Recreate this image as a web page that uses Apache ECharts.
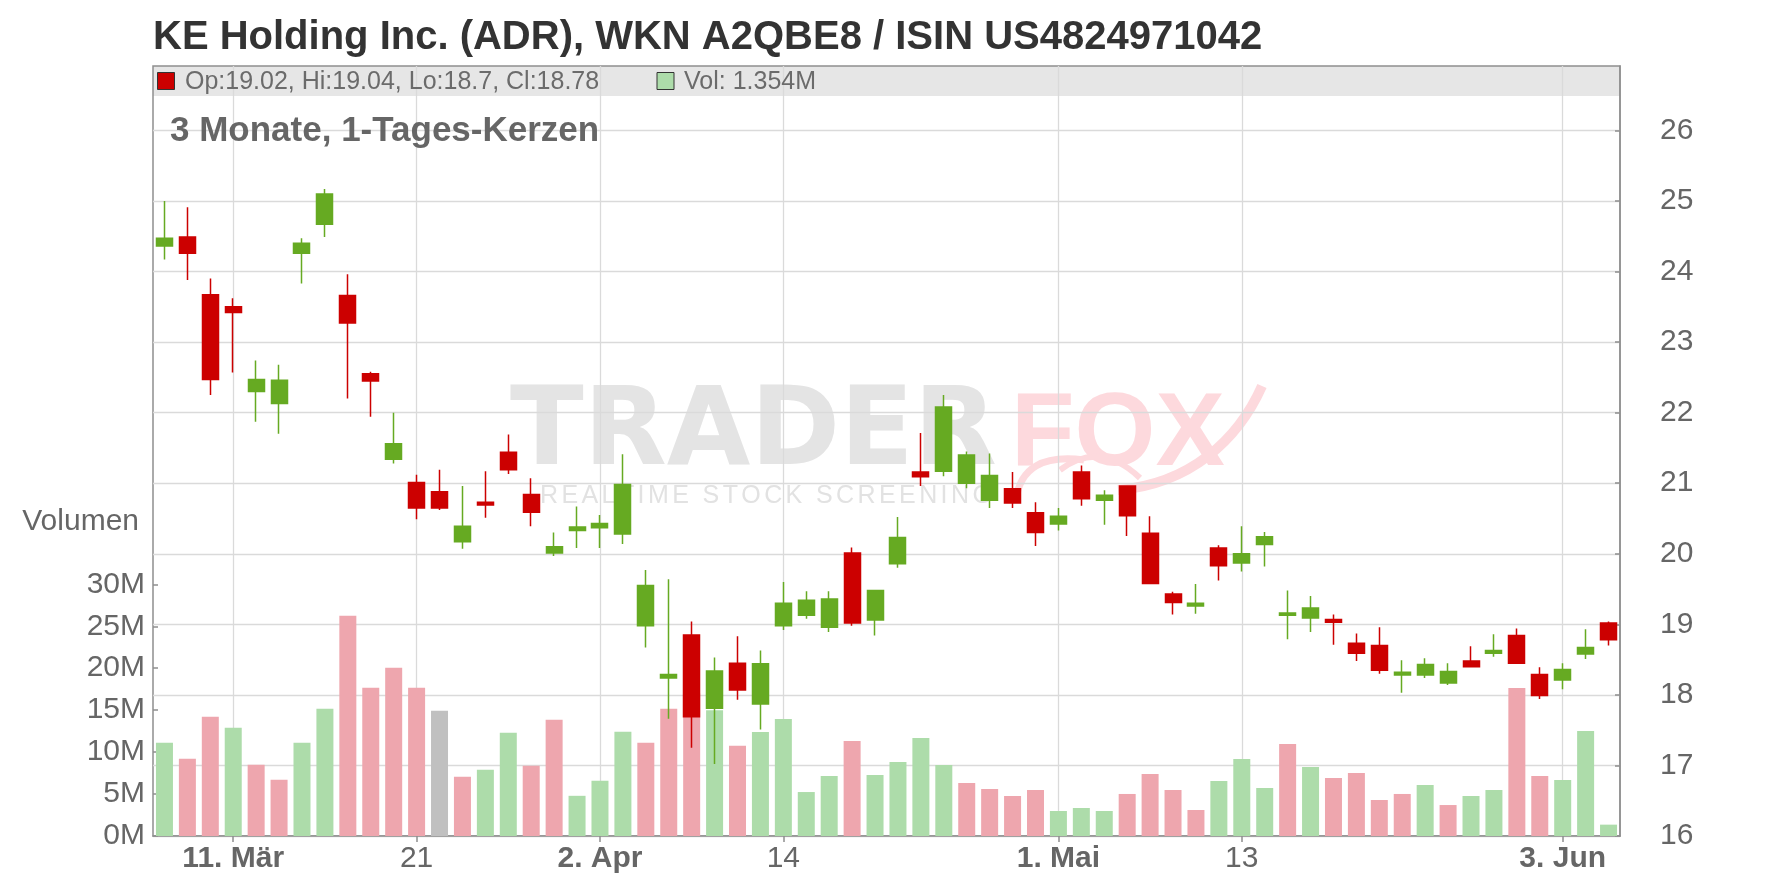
<!DOCTYPE html>
<html>
<head>
<meta charset="utf-8">
<script src="https://cdn.jsdelivr.net/npm/echarts@6/dist/echarts.min.js"></script>
<style>html,body{margin:0;padding:0;background:#fff}#c{width:1776px;height:888px}</style>
</head>
<body>
<div id="c"></div>
<script>
// ---------- data ----------
const dates = [
 '2024-03-06','2024-03-07','2024-03-08','2024-03-11','2024-03-12','2024-03-13','2024-03-14','2024-03-15',
 '2024-03-18','2024-03-19','2024-03-20','2024-03-21','2024-03-22','2024-03-25','2024-03-26','2024-03-27',
 '2024-03-28','2024-04-01','2024-04-02','2024-04-03','2024-04-04','2024-04-05','2024-04-08','2024-04-09',
 '2024-04-10','2024-04-11','2024-04-12','2024-04-15','2024-04-16','2024-04-17','2024-04-18','2024-04-19',
 '2024-04-22','2024-04-23','2024-04-24','2024-04-25','2024-04-26','2024-04-29','2024-04-30','2024-05-01',
 '2024-05-02','2024-05-03','2024-05-06','2024-05-07','2024-05-08','2024-05-09','2024-05-10','2024-05-13',
 '2024-05-14','2024-05-15','2024-05-16','2024-05-17','2024-05-20','2024-05-21','2024-05-22','2024-05-23',
 '2024-05-24','2024-05-28','2024-05-29','2024-05-30','2024-05-31','2024-06-03','2024-06-04','2024-06-05'
];
const opens = [
 24.36,24.49,23.67,23.50,22.30,22.13,24.26,24.67,23.66,22.55,21.34,21.01,20.88,20.17,20.73,21.44,
 20.84,20.01,20.33,20.37,20.28,18.98,18.24,18.85,17.81,18.45,17.87,18.98,19.13,18.96,20.01,19.06,
 19.86,21.16,21.17,21.00,20.76,20.92,20.58,20.42,21.16,20.76,20.96,20.29,19.43,19.26,20.08,19.87,
 20.13,19.13,19.09,19.07,18.73,18.70,18.28,18.28,18.17,18.48,18.59,18.84,18.29,18.21,18.58,19.02
];
const closes = [
 24.47,24.26,22.47,23.42,22.47,22.46,24.40,25.10,23.27,22.45,21.56,20.65,20.65,20.39,20.69,21.19,
 20.59,20.10,20.38,20.43,20.98,19.55,18.29,17.69,18.34,18.07,18.44,19.30,19.34,19.36,19.02,19.48,
 20.23,21.09,22.08,21.40,21.11,20.72,20.30,20.53,20.78,20.83,20.54,19.58,19.31,19.30,19.83,20.00,
 20.24,19.16,19.23,19.03,18.59,18.35,18.32,18.43,18.33,18.40,18.63,18.45,17.99,18.36,18.67,18.78
];
const lows = [
 24.17,23.88,22.25,22.57,21.87,21.70,23.83,24.49,22.20,21.94,21.28,20.49,20.62,20.07,20.51,21.13,
 20.39,19.97,20.08,20.08,20.14,18.67,17.66,17.25,17.02,17.93,17.51,18.92,19.08,18.89,18.98,18.84,
 19.80,20.96,21.10,20.93,20.65,20.65,20.11,20.33,20.68,20.41,20.25,19.58,19.14,19.15,19.62,19.75,
 19.82,18.79,18.89,18.71,18.48,18.30,18.03,18.24,18.14,18.40,18.54,18.44,17.94,18.08,18.51,18.7
];
const highs = [
 25.00,24.91,23.90,23.62,22.74,22.68,24.47,25.17,23.96,22.58,22.00,21.12,21.19,20.96,21.17,21.69,
 21.07,20.30,20.67,20.55,21.41,19.77,19.64,19.04,18.53,18.83,18.63,19.60,19.47,19.47,20.09,19.49,
 20.52,21.71,22.25,21.45,21.42,21.16,20.73,20.65,21.25,20.90,20.97,20.53,19.46,19.57,20.12,20.39,
 20.31,19.48,19.40,19.14,18.87,18.96,18.49,18.52,18.45,18.69,18.86,18.94,18.39,18.45,18.93,19.04
];
// volume in millions of shares
const volumes = [
 11.12,9.22,14.22,12.91,8.50,6.71,11.12,15.18,26.26,17.68,20.06,17.68,14.94,7.07,7.91,12.32,
 8.38,13.87,4.79,6.58,12.42,11.10,15.16,17.0,15.0,10.75,12.40,13.94,5.24,7.15,11.32,7.27,
 8.82,11.68,8.46,6.32,5.60,4.77,5.48,2.98,3.34,2.98,5.01,7.39,5.48,3.10,6.56,9.18,
 5.72,10.97,8.22,6.91,7.51,4.29,5.01,6.08,3.69,4.77,5.48,17.64,7.15,6.67,12.51,1.354
];
const xTickIndex  = [3, 11, 19, 27, 39, 47, 61];
const xTickLabels = ['11. Mär', '21', '2. Apr', '14', '1. Mai', '13', '3. Jun'];
const xTickBold   = [true, false, true, false, true, false, true];
const priceTicks  = [16, 17, 18, 19, 20, 21, 22, 23, 24, 25, 26];
const volumeTicks = [0, 5, 10, 15, 20, 25, 30];

const titleText = 'KE Holding Inc. (ADR), WKN A2QBE8 / ISIN US4824971042';
const subTitleText = '3 Monate, 1-Tages-Kerzen';

// ---------- styling / layout ----------
const UP = '#66aa22', DOWN = '#cc0000';
const VUP = '#addcaa', VDOWN = '#eea6ae', VFLAT = '#c0c0c0';
const FONT = '"Liberation Sans", Arial, sans-serif';
const PL = 153, PR = 1620, PT = 66, PB = 836;       // plot box
const P26 = 130.4;                                   // pixel of the 26 gridline
const pxPerUnit = (PB - P26) / 10;
const priceMax = 16 + (PB - PT) / pxPerUnit;
const volTop = PB - 6 * 41.95;

const n = dates.length;
const last = n - 1;
const ohlc = dates.map((d, i) => [opens[i], closes[i], lows[i], highs[i]]);
const volData = volumes.map((v, i) => {
  let c = VUP;
  if (i > 0) c = closes[i] > closes[i - 1] ? VUP : (closes[i] < closes[i - 1] ? VDOWN : VFLAT);
  return { value: v, itemStyle: { color: c } };
});

// letter-spaced watermark subtitle
const ctx = document.createElement('canvas').getContext('2d');
const wmFont = '25px ' + FONT;
ctx.font = wmFont;
const wmText = 'REALTIME STOCK SCREENING';
const wmChars = [];
let wx = 540;
for (const ch of wmText) {
  wmChars.push({ type: 'text', z: -5, style: { x: wx, y: 496, text: ch, font: wmFont, fill: '#e2e2e2', verticalAlign: 'middle' } });
  wx += ctx.measureText(ch).width + 3.4;
}

const chart = echarts.init(document.getElementById('c'), null, { renderer: 'canvas' });
chart.setOption({
  animation: false,
  backgroundColor: '#fff',
  textStyle: { fontFamily: FONT },
  title: [
    { text: titleText, left: PL, top: 18, padding: 0,
      textStyle: { fontSize: 40, fontWeight: 'bold', color: '#333', fontFamily: FONT } },
    { text: subTitleText, left: 170, top: 114, padding: 0,
      textStyle: { fontSize: 35, fontWeight: 'bold', color: '#666', fontFamily: FONT } }
  ],
  graphic: [
    { type: 'rect', z: -6, shape: { x: PL, y: PT, width: PR - PL, height: 30 }, style: { fill: '#e6e6e6' } },
    { type: 'text', z: -5, style: { x: 510, y: 436, text: 'TRADER', font: 'bold 108px "DejaVu Sans"', fill: '#e4e4e4', verticalAlign: 'middle' } },
    { type: 'text', z: -5, style: { x: 1011, y: 436, text: 'FOX', font: 'bold 104px ' + FONT, fill: '#fdd9dd', verticalAlign: 'middle' } },
    { type: 'bezierCurve', z: -5, shape: { x1: 1016, y1: 500, cpx1: 1022, cpy1: 452, x2: 1084, y2: 460 }, style: { stroke: '#fdd9dd', lineWidth: 7, fill: null } },
    { type: 'bezierCurve', z: -5, shape: { x1: 1060, y1: 470, cpx1: 1100, cpy1: 440, x2: 1140, y2: 478 }, style: { stroke: '#fdd9dd', lineWidth: 6, fill: null } },
    { type: 'bezierCurve', z: -5, shape: { x1: 1118, y1: 490, cpx1: 1190, cpy1: 484, cpx2: 1238, cpy2: 440, x2: 1262, y2: 386 }, style: { stroke: '#fdd9dd', lineWidth: 10, fill: null } },
    ...wmChars,
    { type: 'rect', z: 20, shape: { x: 157.5, y: 72.5, width: 17, height: 17 }, style: { fill: DOWN, stroke: '#333', lineWidth: 1 } },
    { type: 'text', z: 20, style: { x: 185, y: 82, text: `Op:${opens[last]}, Hi:${highs[last]}, Lo:${lows[last]}, Cl:${closes[last]}`,
        font: '25px ' + FONT, fill: '#6b6b6b', verticalAlign: 'middle' } },
    { type: 'rect', z: 20, shape: { x: 657, y: 72.5, width: 17, height: 17 }, style: { fill: VUP, stroke: '#333', lineWidth: 1 } },
    { type: 'text', z: 20, style: { x: 684, y: 82, text: `Vol: ${volumes[last]}M`,
        font: '25px ' + FONT, fill: '#6b6b6b', verticalAlign: 'middle' } }
  ],
  grid: [
    { left: PL, right: 1776 - PR, top: PT, bottom: 888 - PB, show: true, borderColor: '#8f8f8f', borderWidth: 1.5, backgroundColor: 'transparent' },
    { left: PL, right: 1776 - PR, top: volTop, bottom: 888 - PB }
  ],
  xAxis: [
    { type: 'category', gridIndex: 0, data: dates, boundaryGap: true, show: false },
    { type: 'category', gridIndex: 1, data: dates, boundaryGap: true, show: false },
    { type: 'value', gridIndex: 0, min: -0.5, max: n - 0.5, position: 'bottom',
      axisLine: { show: true, onZero: false, lineStyle: { color: '#8f8f8f', width: 1.5 } },
      axisTick: { show: true, customValues: xTickIndex, length: 6, lineStyle: { color: '#8f8f8f', width: 1.5 } },
      axisLabel: { customValues: xTickIndex, margin: 8, fontSize: 30, color: '#666',
        formatter: v => { const k = xTickIndex.indexOf(v); if (k < 0) return ''; return xTickBold[k] ? '{b|' + xTickLabels[k] + '}' : xTickLabels[k]; },
        rich: { b: { fontSize: 30, fontWeight: 'bold', color: '#666', fontFamily: FONT } } },
      splitLine: { show: true, lineStyle: { color: '#dadada', width: 1.3 } } }
  ],
  yAxis: [
    { type: 'value', gridIndex: 0, position: 'right', min: 16, max: priceMax,
      axisLine: { show: true, onZero: false, lineStyle: { color: '#8f8f8f', width: 1.5 } },
      axisTick: { show: true, inside: true, length: 5, customValues: priceTicks, lineStyle: { color: '#8f8f8f', width: 1.5 } },
      axisLabel: { customValues: priceTicks, fontSize: 30, color: '#666', margin: 40 },
      splitLine: { show: true, lineStyle: { color: '#dadada', width: 1.3 } } },
    { type: 'value', gridIndex: 1, position: 'left', min: 0, max: 30, interval: 5,
      name: 'Volumen', nameLocation: 'end', nameGap: 48,
      nameTextStyle: { fontSize: 30, color: '#666', align: 'right', verticalAlign: 'bottom', padding: [0, 14, 0, 0] },
      axisLine: { show: false, onZero: false },
      axisTick: { show: true, inside: true, length: 5, customValues: volumeTicks, lineStyle: { color: '#8f8f8f', width: 1.5 } },
      axisLabel: { customValues: volumeTicks, fontSize: 30, color: '#666', margin: 8, formatter: v => v + 'M' },
      splitLine: { show: false } }
  ],
  series: [
    { type: 'bar', name: 'Vol', xAxisIndex: 1, yAxisIndex: 1, data: volData, barWidth: 17, z: 1 },
    { type: 'candlestick', name: 'KE', xAxisIndex: 0, yAxisIndex: 0, data: ohlc, barWidth: 16.5, z: 3,
      itemStyle: { color: UP, color0: DOWN, borderColor: UP, borderColor0: DOWN, borderWidth: 1.5 } }
  ]
});
</script>
</body>
</html>
